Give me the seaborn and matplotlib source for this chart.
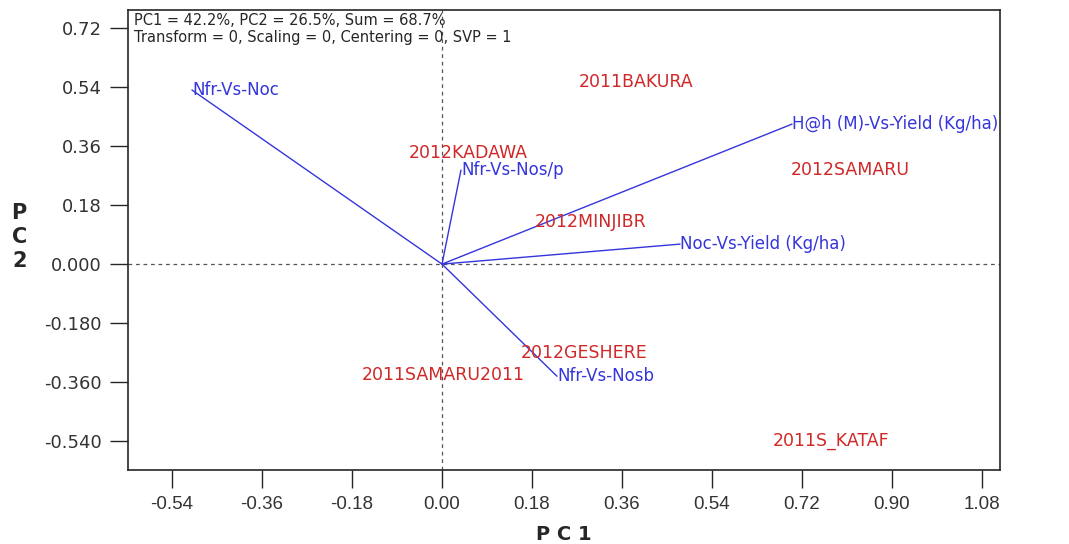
import numpy as np
import pandas as pd
import seaborn as sns
import matplotlib.pyplot as plt

# trait vectors (blue)
vec_names = ["Nfr-Vs-Noc", "Nfr-Vs-Nos/p", "H@h (M)-Vs-Yield (Kg/ha)",
             "Noc-Vs-Yield (Kg/ha)", "Nfr-Vs-Nosb"]
vec_pc1 = [-0.50, 0.038, 0.70, 0.476, 0.23]
vec_pc2 = [0.531, 0.287, 0.427, 0.061, -0.342]

# environment labels (red)
env_names = ["2011BAKURA", "2012KADAWA", "2012SAMARU", "2012MINJIBR",
             "2012GESHERE", "2011SAMARU2011", "2011S_KATAF"]
env_pc1 = [0.388, 0.052, 0.816, 0.298, 0.284, 0.002, 0.778]
env_pc2 = [0.555, 0.340, 0.287, 0.128, -0.272, -0.339, -0.540]

xticks = [-0.54, -0.36, -0.18, 0.00, 0.18, 0.36, 0.54, 0.72, 0.90, 1.08]
yticks = [0.72, 0.54, 0.36, 0.18, 0.0, -0.18, -0.36, -0.54]
ytick_labels = ["0.72", "0.54", "0.36", "0.18", "0.000", "-0.180", "-0.360", "-0.540"]

sns.set_style("ticks")
plt.rcParams['font.family'] = ['DejaVu Sans']

blue = "#3535dc"
red = "#d02828"
wide = ['DejaVu Sans']
narrow = ['Liberation Sans', 'DejaVu Sans']

fig = plt.figure(figsize=(10.69, 5.44), dpi=100)
ax = fig.add_axes([0.1197, 0.136, 0.8158, 0.8456])

# build segments origin -> endpoint
rows = []
for n, x, y in zip(vec_names, vec_pc1, vec_pc2):
    rows.append({"name": n, "step": 0, "pc1": 0.0, "pc2": 0.0})
    rows.append({"name": n, "step": 1, "pc1": x, "pc2": y})
seg = pd.DataFrame(rows)
sns.lineplot(data=seg, x="pc1", y="pc2", units="name", estimator=None,
             sort=False, color=blue, lw=1.0, ax=ax)

for n, x, y in zip(vec_names, vec_pc1, vec_pc2):
    ax.text(x, y, n, color=blue, fontsize=12, family=wide, ha="left", va="center")

for n, x, y in zip(env_names, env_pc1, env_pc2):
    ax.text(x, y, n, color=red, fontsize=12.5, family=wide, ha="center", va="center")

ax.axhline(0, color="#555555", ls=(0, (3, 3)), lw=0.9, zorder=0)
ax.axvline(0, color="#555555", ls=(0, (3, 3)), lw=0.9, zorder=0)

ax.set_xlim(-0.628, 1.116)
ax.set_ylim(-0.628, 0.775)
ax.set_xticks(xticks)
ax.set_xticklabels([f"{t:.2f}" for t in xticks], family=narrow, fontsize=13.5)
ax.set_yticks(yticks)
ax.set_yticklabels(ytick_labels, family=wide, fontsize=13)
ax.tick_params(axis="both", labelcolor="#333333", length=13, width=1)
ax.tick_params(axis="x", pad=6)
ax.tick_params(axis="y", pad=6)
for s in ax.spines.values():
    s.set_visible(True)
    s.set_linewidth(1.2)

ax.set_xlabel("P C 1", fontsize=14, fontweight="bold", labelpad=8)
ax.set_ylabel("")
fig.text(0.018, 0.565, "P\nC\n2", fontsize=15, fontweight="bold", ha="center",
         va="center", linespacing=1.25)

ax.text(0.007, 0.993, "PC1 = 42.2%, PC2 = 26.5%, Sum = 68.7%\n"
        "Transform = 0, Scaling = 0, Centering = 0, SVP = 1",
        transform=ax.transAxes, fontsize=10.5, family=wide, ha="left", va="top",
        linespacing=1.15)

fig.savefig("out.png", dpi=100)
